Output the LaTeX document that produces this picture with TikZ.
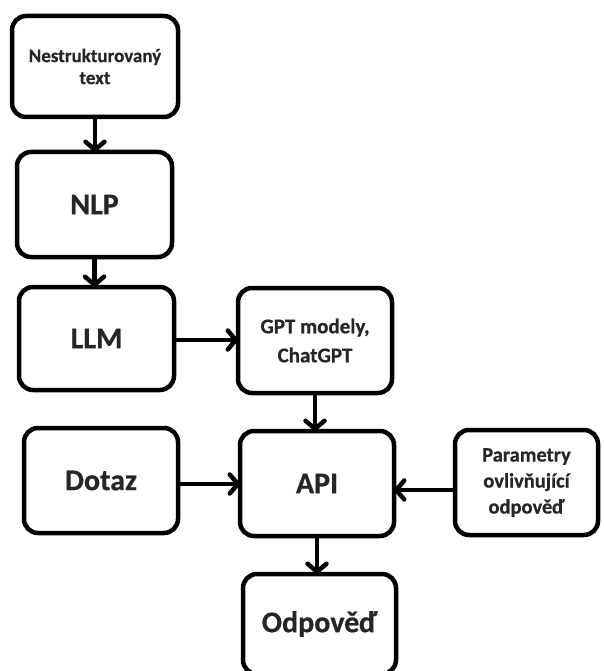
\documentclass[tikz,border=0pt]{standalone}
\usepackage{fontspec}
\setmainfont{Carlito}[BoldFeatures={FakeBold=0.6}]
\usetikzlibrary{arrows.meta}
\begin{document}
\begin{tikzpicture}[x=1pt,y=-1pt,
  box/.style={draw=black,line width=4.5pt,rounded corners=14pt,fill=white,
    inner sep=0pt,outer sep=0pt,align=center,text=black!85,font=\bfseries},
  big/.style={font=\fontsize{30}{32}\selectfont\bfseries},
  small/.style={font=\fontsize{19}{22}\selectfont\bfseries},
  mid/.style={font=\fontsize{21}{29}\selectfont\bfseries},
  midp/.style={font=\fontsize{20.5}{26}\selectfont\bfseries},
  conn/.style={line width=4.5pt,-{Straight Barb[length=8pt,width=19pt,line cap=round,line join=round]}}
]
\useasboundingbox (0,0) rectangle (603,671);
\node[box,small,minimum width=166pt,minimum height=101pt] (txt) at (95,66.5) {Nestrukturovaný\\text};
\node[box,big,minimum width=155pt,minimum height=105pt] (nlp) at (94.5,204.5) {NLP};
\node[box,big,minimum width=155pt,minimum height=103pt] (llm) at (96.5,338.5) {LLM};
\node[box,mid,minimum width=154pt,minimum height=105pt] (gpt) at (315,340.5) {GPT modely,\\ChatGPT};
\node[box,big,minimum width=154pt,minimum height=105pt] (dotaz) at (101,480.5) {Dotaz};
\node[box,big,minimum width=154pt,minimum height=105pt] (api) at (317,483.5) {API};
\node[box,midp,minimum width=143pt,minimum height=105pt] (par) at (526.5,482.5) {Parametry\\ovlivňující\\odpověď};
\node[box,big,minimum width=153pt,minimum height=100pt] (odp) at (319.5,624) {Odpověď};
\draw[conn] (txt.south) -- (txt.south |- nlp.north);
\draw[conn] (nlp.south) -- (nlp.south |- llm.north);
\draw[conn] ([yshift=-1.5pt]llm.east) -- ([yshift=-1.5pt]llm.east -| gpt.west);
\draw[conn] (gpt.south) -- (gpt.south |- api.north);
\draw[conn] ([yshift=-3.5pt]dotaz.east) -- ([yshift=-3.5pt]dotaz.east -| api.west);
\draw[conn] ([yshift=-7.5pt]par.west) -- ([yshift=-7.5pt]par.west -| api.east);
\draw[conn] (api.south) -- (api.south |- odp.north);
\end{tikzpicture}
\end{document}
